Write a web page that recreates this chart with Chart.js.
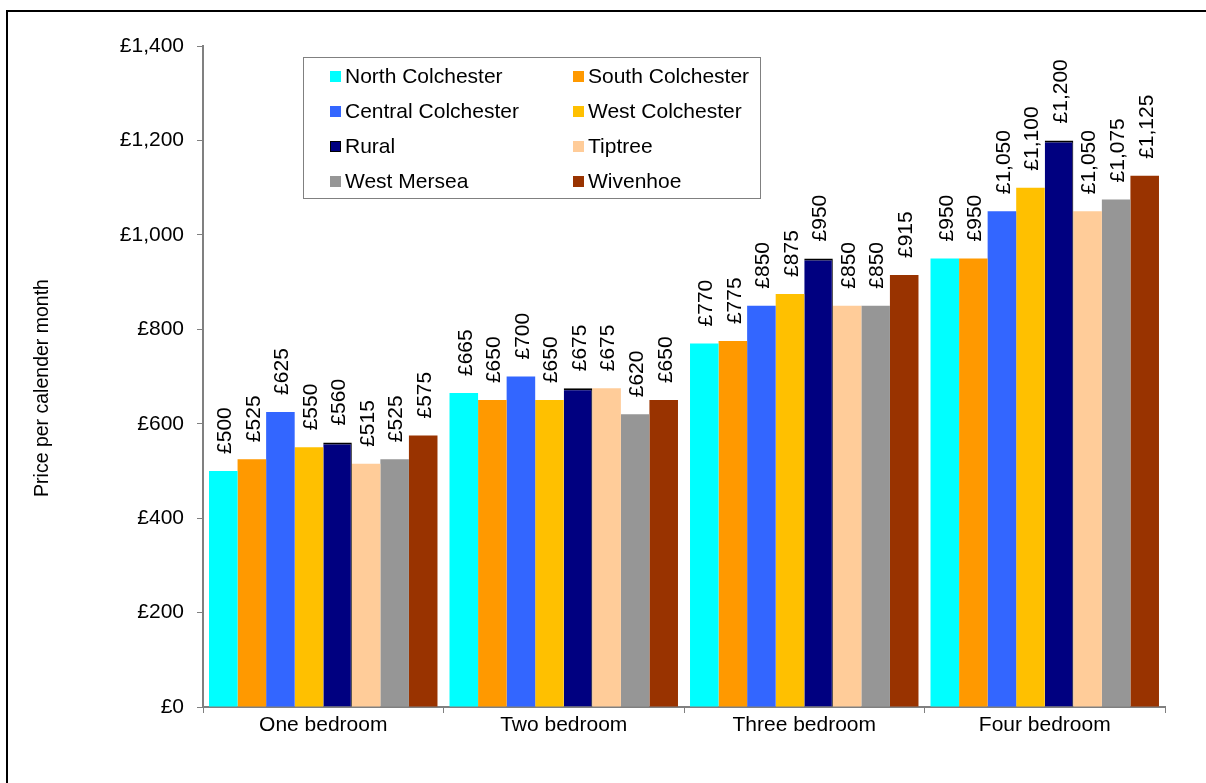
<!DOCTYPE html>
<html>
<head>
<meta charset="utf-8">
<script src="https://cdn.jsdelivr.net/npm/chart.js@4/dist/chart.umd.min.js"></script>
<style>
  html, body { margin: 0; padding: 0; background: #fff; overflow: hidden; }
  #wrap { position: relative; width: 1206px; height: 783px; }
  #frame { position: absolute; left: 6px; top: 10px; width: 1400px; height: 1000px;
           border-top: 2px solid #000; border-left: 2px solid #000; }
  canvas { position: absolute; left: 0; top: 0; }
</style>
</head>
<body>
<div id="wrap">
  <div id="frame"></div>
  <canvas id="chart" width="1206" height="783"></canvas>
</div>
<script>
// Categories and series
const categories = ['One bedroom', 'Two bedroom', 'Three bedroom', 'Four bedroom'];
const areas = ['North Colchester', 'South Colchester', 'Central Colchester', 'West Colchester',
               'Rural', 'Tiptree', 'West Mersea', 'Wivenhoe'];
const northColchester   = [500, 665, 770, 950];
const southColchester   = [525, 650, 775, 950];
const centralColchester = [625, 700, 850, 1050];
const westColchester    = [550, 650, 875, 1100];
const rural             = [560, 675, 950, 1200];
const tiptree           = [515, 675, 850, 1050];
const westMersea        = [525, 620, 850, 1075];
const wivenhoe          = [575, 650, 915, 1125];
const yTicks = [0, 200, 400, 600, 800, 1000, 1200, 1400];

const seriesValues = [northColchester, southColchester, centralColchester, westColchester,
                      rural, tiptree, westMersea, wivenhoe];
const colors = ['#00FFFF', '#FF9900', '#3366FF', '#FFC000', '#000080', '#FFCC99', '#969696', '#993300'];

const FONT = 'Arial, "Liberation Sans", sans-serif';

function money(v) {
    return '£' + v.toLocaleString('en-GB');
}

// Value labels above bars, rotated
const valueLabels = {
    id: 'valueLabels',
    afterDatasetsDraw(chart) {
        const ctx = chart.ctx;
        ctx.save();
        ctx.fillStyle = '#000';
        ctx.font = '21px ' + FONT;
        chart.data.datasets.forEach((ds, i) => {
            chart.getDatasetMeta(i).data.forEach((bar, j) => {
                ctx.save();
                ctx.translate(bar.x + 1, bar.y - 17);
                ctx.rotate(-Math.PI / 2);
                ctx.textAlign = 'left';
                ctx.textBaseline = 'middle';
                ctx.fillText(money(ds.data[j]), 0, 1);
                ctx.restore();
            });
        });
        ctx.restore();
    }
};

// Boxed legend inside the plot, two columns
const boxLegend = {
    id: 'boxLegend',
    afterDraw(chart) {
        const ctx = chart.ctx;
        ctx.save();
        ctx.fillStyle = '#fff';
        ctx.fillRect(303.5, 57.5, 457, 141);
        ctx.strokeStyle = '#808080';
        ctx.lineWidth = 1;
        ctx.strokeRect(303.5, 57.5, 457, 141);
        ctx.font = '21px ' + FONT;
        ctx.textBaseline = 'middle';
        ctx.textAlign = 'left';
        chart.data.datasets.forEach((ds, i) => {
            const col = i % 2;
            const row = Math.floor(i / 2);
            const x = col === 0 ? 330 : 573;
            const y = 76 + row * 35;
            ctx.fillStyle = ds.backgroundColor;
            ctx.fillRect(x, y - 5, 11, 11);
            if (i === 4) {
                ctx.strokeStyle = '#000';
                ctx.strokeRect(x + 0.5, y - 4.5, 10, 10);
            }
            ctx.fillStyle = '#000';
            ctx.fillText(ds.label, x + 15, y + 1);
        });
        // y-axis title
        ctx.save();
        ctx.translate(43, 388);
        ctx.rotate(-Math.PI / 2);
        ctx.textAlign = 'center';
        ctx.textBaseline = 'middle';
        ctx.font = '19.5px ' + FONT;
        ctx.fillText('Price per calender month', 0, 0);
        ctx.restore();
        ctx.restore();
    }
};

const ctx = document.getElementById('chart').getContext('2d');
new Chart(ctx, {
    type: 'bar',
    data: {
        labels: categories,
        datasets: areas.map((name, i) => ({
            label: name,
            data: seriesValues[i],
            backgroundColor: colors[i],
            borderColor: i === 4 ? '#000' : colors[i],
            borderWidth: i === 4 ? { top: 2, right: 1 } : 0,
            borderSkipped: 'bottom',
            categoryPercentage: 0.95,
            barPercentage: 1.0
        }))
    },
    options: {
        responsive: false,
        animation: false,
        devicePixelRatio: 1,
        layout: { padding: { top: 46, right: 41, bottom: 0, left: 0 } },
        plugins: {
            legend: { display: false },
            tooltip: { enabled: false }
        },
        scales: {
            x: {
                grid: {
                    offset: true,
                    drawOnChartArea: false,
                    drawTicks: true,
                    tickLength: 6,
                    color: '#808080'
                },
                border: { color: '#808080', width: 2 },
                ticks: {
                    color: '#000',
                    font: { family: FONT, size: 21 },
                    padding: 0
                },
                afterFit: s => { s.height = 76; }
            },
            y: {
                min: 0,
                max: 1400,
                afterBuildTicks: s => { s.ticks = yTicks.map(v => ({ value: v })); },
                grid: {
                    drawOnChartArea: false,
                    drawTicks: true,
                    tickLength: 6,
                    color: '#808080'
                },
                border: { color: '#808080', width: 2 },
                ticks: {
                    color: '#000',
                    font: { family: FONT, size: 21 },
                    padding: 13,
                    callback: v => money(v)
                },
                afterFit: s => { s.width = 203; }
            }
        }
    },
    plugins: [valueLabels, boxLegend]
});
</script>
</body>
</html>
